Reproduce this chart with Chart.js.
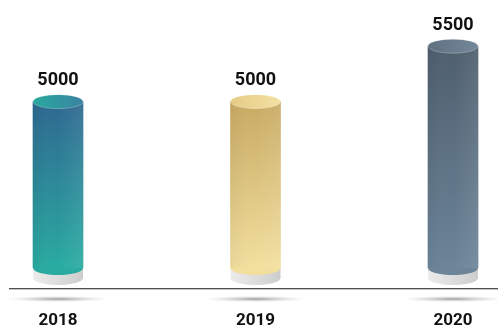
<!DOCTYPE html>
<html>
<head>
<meta charset="utf-8">
<script src="https://cdn.jsdelivr.net/npm/chart.js@4/dist/chart.umd.min.js"></script>
<style>
  html, body { margin: 0; padding: 0; background: #fff; }
  #wrap { width: 498px; height: 328px; position: relative; }
</style>
</head>
<body>
<div id="wrap"><canvas id="c"></canvas></div>
<script>
// cylinder bars — three years, value on top, grey plinth + floor shadow
const years = ['2018', '2019', '2020'];
const values = [5000, 5000, 5500];
const yRange = [3500, 5700];

// body: [top, bottom], cap: [left, right]
const bodyColors = [['#2e6890', '#29aba1'], ['#c8aa63', '#f2df9e'], ['#4e5e6d', '#6c8599']];
const capColors = [['#29a9a0', '#3a83a0'], ['#e6cb85', '#f3e0a4'], ['#5f7080', '#74889a']];

const RY = 7;      // ellipse half-height
const PLINTH = 10; // grey base height

function bodyFill(ctx) {
  const chart = ctx.chart;
  const area = chart.chartArea;
  if (!area) return bodyColors[ctx.dataIndex][0];
  const top = chart.scales.y.getPixelForValue(values[ctx.dataIndex]);
  const g = chart.ctx.createLinearGradient(0, top, 0, area.bottom);
  g.addColorStop(0, bodyColors[ctx.dataIndex][0]);
  g.addColorStop(1, bodyColors[ctx.dataIndex][1]);
  return g;
}

function ellipse(c, x, y, rx, ry) {
  c.beginPath();
  c.ellipse(x, y, rx, ry, 0, 0, Math.PI * 2);
}

const cylinders = {
  id: 'cylinders',
  beforeDatasetsDraw(chart) {
    const c = chart.ctx;
    const meta = chart.getDatasetMeta(0);
    const base = chart.chartArea.bottom;
    c.save();
    // axis line
    c.fillStyle = '#505050';
    c.fillRect(9, 288, 489, 1);
    c.fillStyle = '#c4c4c4';
    c.fillRect(9, 289, 489, 1);
    meta.data.forEach((el) => {
      const x = el.x, rx = el.width / 2;
      // floor shadow
      c.save();
      c.translate(x, 299);
      c.scale(1, 0.06);
      const sg = c.createRadialGradient(0, 0, 0, 0, 0, 52);
      sg.addColorStop(0, 'rgba(120,120,120,0.75)');
      sg.addColorStop(1, 'rgba(200,200,200,0)');
      c.fillStyle = sg;
      ellipse(c, 0, 0, 52, 52);
      c.fill();
      c.restore();
      // grey plinth
      const pg = c.createLinearGradient(x - rx, 0, x + rx, 0);
      pg.addColorStop(0, '#ececec');
      pg.addColorStop(1, '#cdcdcd');
      c.fillStyle = pg;
      c.fillRect(x - rx, base - 2, rx * 2, PLINTH + 2);
      ellipse(c, x, base + PLINTH, rx, RY);
      c.fill();
    });
    c.restore();
  },
  afterDatasetsDraw(chart) {
    const c = chart.ctx;
    const meta = chart.getDatasetMeta(0);
    const base = chart.chartArea.bottom;
    c.save();
    meta.data.forEach((el, i) => {
      const x = el.x, top = el.y, rx = el.width / 2;
      // bottom rim of the body
      c.fillStyle = bodyColors[i][1];
      ellipse(c, x, base, rx, RY);
      c.fill();
      // soft side shading
      const sh = c.createLinearGradient(x - rx, 0, x + rx, 0);
      sh.addColorStop(0, 'rgba(0,0,0,0.04)');
      sh.addColorStop(0.5, 'rgba(255,255,255,0)');
      sh.addColorStop(1, 'rgba(255,255,255,0.08)');
      c.fillStyle = sh;
      c.fillRect(x - rx, top, rx * 2, base - top);
      // top cap
      const cg = c.createLinearGradient(x - rx, 0, x + rx, 0);
      cg.addColorStop(0, capColors[i][0]);
      cg.addColorStop(1, capColors[i][1]);
      c.fillStyle = cg;
      ellipse(c, x, top, rx, RY);
      c.fill();
      c.strokeStyle = 'rgba(255,255,255,0.25)';
      c.lineWidth = 1;
      c.stroke();
      // value label
      c.fillStyle = '#111';
      c.font = 'bold 18px Roboto';
      c.textAlign = 'center';
      c.textBaseline = 'middle';
      c.fillText(String(values[i]), x, top - 21);
      // year label
      c.font = 'bold 17px Roboto';
      c.fillText(years[i], x, 321);
    });
    c.restore();
  },
};

new Chart(document.getElementById('c'), {
  type: 'bar',
  data: {
    labels: years,
    datasets: [{
      data: values,
      backgroundColor: bodyFill,
      borderWidth: 0,
      barThickness: 50,
      clip: { left: false, right: false, top: false, bottom: 0 },
    }],
  },
  options: {
    responsive: true,
    maintainAspectRatio: false,
    animation: false,
    layout: { padding: { top: 24, bottom: 60, left: 58, right: 45 } },
    plugins: { legend: { display: false }, tooltip: { enabled: false } },
    scales: {
      x: { display: false, offset: false },
      y: { display: false, min: yRange[0], max: yRange[1] },
    },
  },
  plugins: [cylinders],
});
</script>
</body>
</html>
